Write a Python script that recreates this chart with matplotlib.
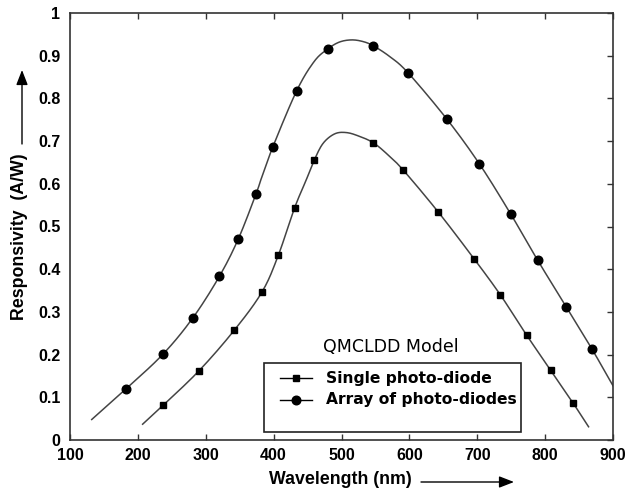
import matplotlib
matplotlib.use("Agg")
import numpy as np
import matplotlib.pyplot as plt
from matplotlib.lines import Line2D
from matplotlib.patches import Rectangle, FancyArrowPatch

# ---- data ----
single_x = [237, 290, 342, 383, 407, 431, 460, 547, 591, 642, 695, 734, 773, 808, 841]
single_y = [0.081, 0.162, 0.257, 0.347, 0.433, 0.544, 0.656, 0.696, 0.632, 0.535,
            0.425, 0.340, 0.245, 0.164, 0.087]

array_x = [182, 237, 281, 320, 348, 374, 399, 434, 480, 547, 598, 655, 703, 749, 789, 831, 869]
array_y = [0.119, 0.201, 0.286, 0.383, 0.471, 0.576, 0.687, 0.818, 0.916, 0.923, 0.860,
           0.752, 0.647, 0.530, 0.421, 0.312, 0.213]

# traced model curves
single_curve_x = [207, 237, 290, 342, 383, 407, 431, 448, 460, 473, 490, 507, 525,
                  547, 569, 591, 642, 695, 734, 773, 808, 841, 864]
single_curve_y = [0.037, 0.081, 0.162, 0.257, 0.347, 0.433, 0.544, 0.609, 0.656, 0.695,
                  0.717, 0.720, 0.712, 0.696, 0.667, 0.632, 0.535, 0.425, 0.340, 0.245,
                  0.164, 0.087, 0.031]

array_curve_x = [132, 182, 237, 281, 320, 348, 374, 382, 399, 434, 460, 480, 497,
                 515, 532, 547, 571, 598, 655, 703, 749, 789, 831, 869, 900]
array_curve_y = [0.048, 0.119, 0.201, 0.286, 0.383, 0.471, 0.576, 0.613, 0.687, 0.818,
                 0.887, 0.916, 0.932, 0.937, 0.933, 0.923, 0.898, 0.860, 0.752,
                 0.647, 0.530, 0.421, 0.312, 0.213, 0.127]

x_ticks = [100, 200, 300, 400, 500, 600, 700, 800, 900]
y_ticks = [0, 0.1, 0.2, 0.3, 0.4, 0.5, 0.6, 0.7, 0.8, 0.9, 1]
y_ticklabels = ["0", "0.1", "0.2", "0.3", "0.4", "0.5", "0.6", "0.7", "0.8", "0.9", "1"]

legend_title = "QMCLDD Model"
legend_labels = ["Single photo-diode", "Array of photo-diodes"]


def smooth(xs, ys, n=12):
    """Catmull-Rom rendering through the traced points (drawing only)."""
    p = np.column_stack([xs, ys]).astype(float)
    p = np.vstack([2 * p[0] - p[1], p, 2 * p[-1] - p[-2]])
    out = []
    t = np.linspace(0, 1, n, endpoint=False)[:, None]
    for i in range(1, len(p) - 2):
        p0, p1, p2, p3 = p[i - 1], p[i], p[i + 1], p[i + 2]
        seg = 0.5 * ((2 * p1) + (-p0 + p2) * t + (2 * p0 - 5 * p1 + 4 * p2 - p3) * t ** 2
                     + (-p0 + 3 * p1 - 3 * p2 + p3) * t ** 3)
        out.append(seg)
    out.append(p[-2][None, :])
    out = np.vstack(out)
    return out[:, 0], out[:, 1]


# ---- plotting ----
W, H = 627, 491
fig = plt.figure(figsize=(W / 100, H / 100), dpi=100)
ax = fig.add_axes([70 / W, 1 - 440 / H, 543 / W, 427 / H])

line_color = "#444444"
ax.plot(*smooth(array_curve_x, array_curve_y), color=line_color, lw=1.1)
ax.plot(*smooth(single_curve_x, single_curve_y), color=line_color, lw=1.1)
ax.plot(array_x, array_y, "o", color="black", ms=6.2, mec="black")
ax.plot(single_x, single_y, "s", color="black", ms=4.0, mec="black")

ax.set_xlim(100, 900)
ax.set_ylim(0, 1)
ax.set_xticks(x_ticks)
ax.set_yticks(y_ticks)
ax.set_yticklabels(y_ticklabels)

for lab in ax.get_xticklabels() + ax.get_yticklabels():
    lab.set_fontfamily("Liberation Sans")
    lab.set_fontweight("bold")
    lab.set_fontsize(11.5)

ax.tick_params(axis="both", direction="in", length=4.5, width=1, color="#333333",
               top=True, right=True, left=False, bottom=True, labelleft=True,
               labelbottom=True)
ax.tick_params(axis="x", pad=6)
ax.tick_params(axis="y", pad=7)
for sp in ax.spines.values():
    sp.set_linewidth(1.2)
    sp.set_color("#333333")

# axis labels with arrows
fig.text(340 / W, 1 - 480 / H, "Wavelength (nm)", ha="center", va="center",
         fontfamily="Liberation Sans", fontweight="bold", fontsize=12.8)
fig.text(20 / W, 1 - 237 / H, "Responsivity  (A/W)", ha="center", va="center",
         rotation=90, fontfamily="Liberation Sans", fontweight="bold", fontsize=12.8)
arrow_kw = dict(arrowstyle="-|>,head_length=0.9,head_width=0.35", color="black", lw=1.0,
                shrinkA=0, shrinkB=0, mutation_scale=10, transform=fig.transFigure)
fig.add_artist(FancyArrowPatch((421 / W, 1 - 482 / H), (514 / W, 1 - 482 / H), **arrow_kw))
fig.add_artist(FancyArrowPatch((22 / W, 1 - 144 / H), (22 / W, 1 - 70 / H), **arrow_kw))

# legend (drawn in axes fraction)
box = Rectangle((0.358, 0.019), 0.830 - 0.358, 0.180 - 0.019, transform=ax.transAxes,
                facecolor="white", edgecolor="#222222", lw=1.2, zorder=5)
ax.add_patch(box)
ax.text(0.591, 0.217, legend_title, transform=ax.transAxes, ha="center", va="center",
        fontfamily="DejaVu Sans", fontweight="medium", fontsize=12.5, zorder=6)
for yy, mk, ms, lab in [(0.1445, "s", 4.0, legend_labels[0]), (0.094, "o", 6.2, legend_labels[1])]:
    ax.add_line(Line2D([0.387, 0.445], [yy, yy], transform=ax.transAxes, color="black",
                       lw=1.0, zorder=6))
    ax.add_line(Line2D([0.416], [yy], transform=ax.transAxes, marker=mk, ms=ms,
                       color="black", zorder=7))
    ax.text(0.471, yy, lab, transform=ax.transAxes, ha="left", va="center",
            fontfamily="DejaVu Sans", fontweight="bold", fontsize=11.2, zorder=6)

fig.savefig("out.png", dpi=100)
